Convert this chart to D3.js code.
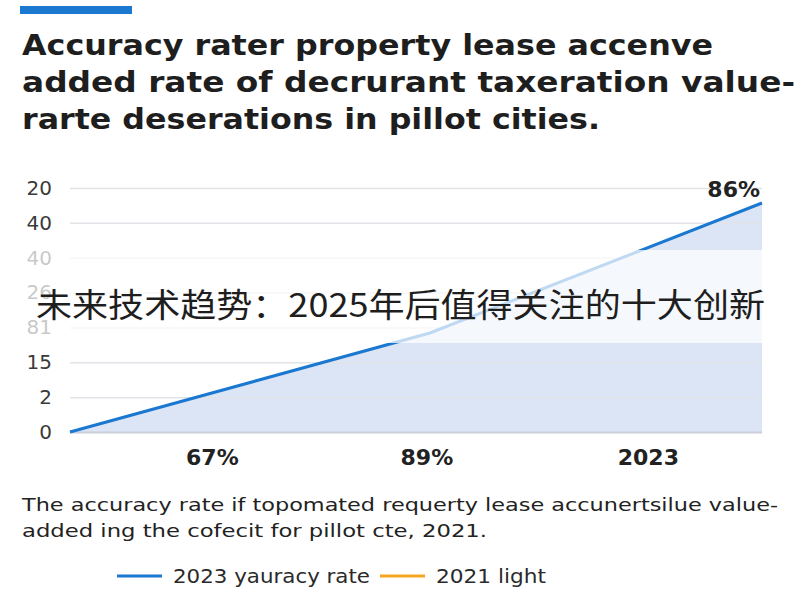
<!DOCTYPE html>
<html>
<head>
<meta charset="utf-8">
<script src="https://cdn.jsdelivr.net/npm/d3@7"></script>
<style>
  body { margin: 0; background: #fff; }
  svg { display: block; }
</style>
</head>
<body>
<div id="chart"></div>
<script>
// DATA
const titleLines = [
  'Accuracy rater property lease accenve',
  'added rate of decrurant taxeration value-',
  'rarte deserations in pillot cities.'
];
const yTickLabels = ['0', '2', '15', '81', '26', '40', '40', '20'];
const seriesX = [0, 52, 100];
const seriesY = [0, 2.84, 6.57];
const xCategories = ['67%', '89%', '2023'];
const xCategoryAt = [20.5, 51.5, 83.5];
const endLabel = '86%';
const captionLines = [
  'The accuracy rate if topomated requerty lease accunertsilue value-',
  'added ing the cofecit for pillot cte, 2021.'
];
const overlayText = '未来技术趋势：2025年后值得关注的十大创新';
const legendItems = [
  { name: '2023 yauracy rate', color: '#1a78d0' },
  { name: '2021 light', color: '#f5a623' }
];

drawChart();

function drawChart() {
  const width = 800, height = 600;
  const margin = { left: 70, right: 38, top: 188, bottom: 168 };
  const innerW = width - margin.left - margin.right;
  const innerH = height - margin.top - margin.bottom;
  const font = '"DejaVu Sans", sans-serif';

  const svg = d3.select('#chart').append('svg')
    .attr('width', width)
    .attr('height', height);

  // top accent bar
  svg.append('rect').attr('x', 20).attr('y', 6).attr('width', 112).attr('height', 8).attr('fill', '#1a78d0');

  // title (line widths fitted to the reference)
  const titleWidths = [691, 773, 578];
  svg.append('g').selectAll('text')
    .data(titleLines)
    .enter().append('text')
    .attr('x', 22)
    .attr('y', (d, i) => 55 + i * 37)
    .attr('textLength', (d, i) => titleWidths[i])
    .attr('lengthAdjust', 'spacingAndGlyphs')
    .attr('font-family', font)
    .attr('font-weight', 700)
    .attr('font-size', 29)
    .attr('fill', '#1e1e1e')
    .text(d => d);

  // scales
  const x = d3.scaleLinear().domain([0, 100]).range([0, innerW]);
  const y = d3.scaleLinear().domain([0, yTickLabels.length - 1]).range([innerH, 0]);

  const g = svg.append('g').attr('transform', 'translate(' + margin.left + ',' + margin.top + ')');

  // area
  const points = seriesX.map((v, i) => [v, seriesY[i]]);
  g.append('path')
    .datum(points)
    .attr('fill', '#dbe5f6')
    .attr('d', d3.area().x(d => x(d[0])).y0(y(0)).y1(d => y(d[1])));

  // grid + y labels
  const yAxis = d3.axisLeft(y)
    .tickValues(d3.range(yTickLabels.length))
    .tickFormat(i => yTickLabels[i])
    .tickSize(-innerW)
    .tickPadding(18);
  const yg = g.append('g').call(yAxis);
  yg.select('.domain').remove();
  yg.selectAll('.tick line').attr('stroke', '#e1e3e8').attr('stroke-width', 1.5);
  yg.selectAll('.tick').filter(i => i === 0).select('line').attr('stroke', '#c9ced8').attr('stroke-width', 2);
  yg.selectAll('.tick text')
    .attr('font-family', font)
    .attr('font-size', 20)
    .attr('fill', '#3a3a3a');

  // line
  g.append('path')
    .datum(points)
    .attr('fill', 'none')
    .attr('stroke', '#1a78d0')
    .attr('stroke-width', 3)
    .attr('d', d3.line().x(d => x(d[0])).y(d => y(d[1])));

  // x category labels
  const xAxis = d3.axisBottom(x)
    .tickValues(xCategoryAt)
    .tickFormat((d, i) => xCategories[i])
    .tickSize(0)
    .tickPadding(17);
  const xg = g.append('g').attr('transform', 'translate(0,' + innerH + ')').call(xAxis);
  xg.select('.domain').remove();
  xg.selectAll('.tick text')
    .attr('font-family', font)
    .attr('font-weight', 700)
    .attr('font-size', 22)
    .attr('fill', '#222');

  // end value label
  const last = points[points.length - 1];
  g.append('text')
    .attr('x', x(last[0]) - 2)
    .attr('y', y(last[1]) - 6)
    .attr('text-anchor', 'end')
    .attr('font-family', font)
    .attr('font-weight', 700)
    .attr('font-size', 22)
    .attr('fill', '#222')
    .text(endLabel);

  // white overlay band with Chinese text
  svg.append('rect')
    .attr('x', 0).attr('y', 250)
    .attr('width', margin.left + innerW).attr('height', 93)
    .attr('fill', '#fff').attr('opacity', 0.72);
  svg.append('text')
    .attr('x', 36).attr('y', 317)
    .attr('textLength', 729)
    .attr('lengthAdjust', 'spacingAndGlyphs')
    .attr('font-family', '"Noto Sans CJK SC", sans-serif')
    .attr('font-size', 33)
    .attr('fill', '#1e1e1e')
    .text(overlayText);

  // caption
  const captionWidths = [756, 465];
  svg.append('g').selectAll('text')
    .data(captionLines)
    .enter().append('text')
    .attr('x', 22)
    .attr('y', (d, i) => 511 + i * 26)
    .attr('textLength', (d, i) => captionWidths[i])
    .attr('lengthAdjust', 'spacingAndGlyphs')
    .attr('font-family', font)
    .attr('font-size', 18)
    .attr('fill', '#222')
    .text(d => d);

  // legend
  const legendWidths = [197, 110];
  const legend = svg.append('g').attr('transform', 'translate(117,576)');
  let lx = 0;
  legendItems.forEach((item, i) => {
    legend.append('line')
      .attr('x1', lx).attr('x2', lx + 45)
      .attr('y1', 0).attr('y2', 0)
      .attr('stroke', item.color).attr('stroke-width', 3);
    legend.append('text')
      .attr('x', lx + 56).attr('y', 7)
      .attr('textLength', legendWidths[i])
      .attr('lengthAdjust', 'spacingAndGlyphs')
      .attr('font-family', font)
      .attr('font-size', 19)
      .attr('fill', '#2a2a2a')
      .text(item.name);
    lx += 56 + legendWidths[i] + 10;
  });
}
</script>
</body>
</html>
